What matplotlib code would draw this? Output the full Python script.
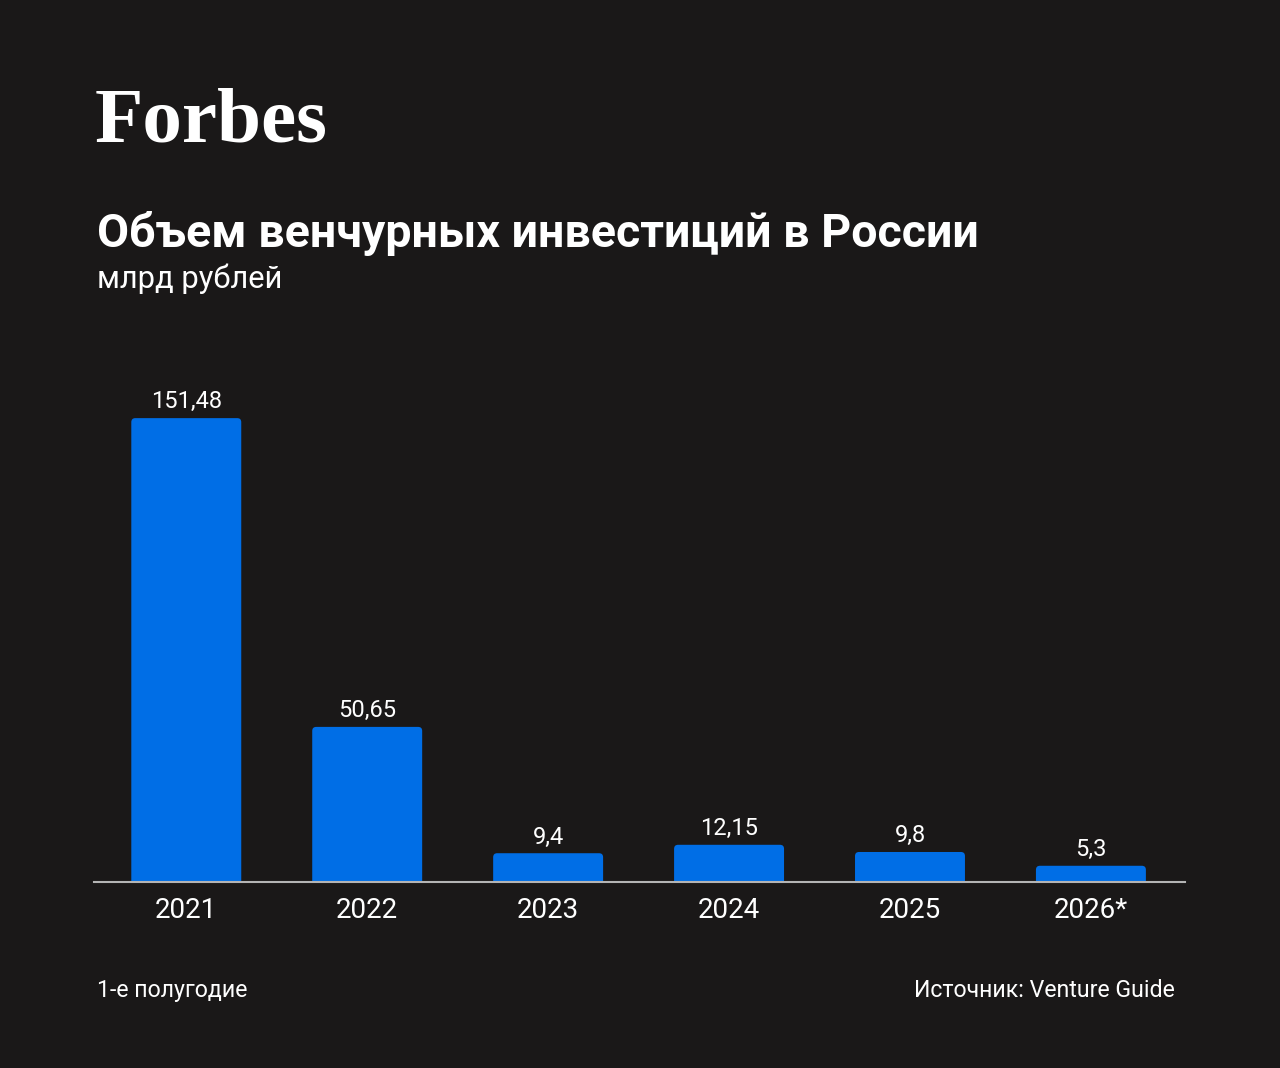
import matplotlib.pyplot as plt
from matplotlib.patches import FancyBboxPatch

plt.rcParams['font.family'] = ['Roboto', 'DejaVu Sans']

# данные
years = ['2021', '2022', '2023', '2024', '2025', '2026*']
values = [151.48, 50.65, 9.4, 12.15, 9.8, 5.3]
labels = ['151,48', '50,65', '9,4', '12,15', '9,8', '5,3']

BG = '#1a1818'
BLUE = '#006ee6'
W, H = 1280, 1068

fig = plt.figure(figsize=(W / 100, H / 100), dpi=100, facecolor=BG)


def fy(y):
    # пиксели сверху -> доля фигуры
    return 1 - y / H


# логотип и заголовки
fig.text(95 / W, fy(142), 'Forbes', fontsize=57, fontweight='bold', color='white',
         family='Liberation Serif', va='baseline', ha='left')
fig.text(97 / W, fy(247), 'Объем венчурных инвестиций в России', fontsize=33.5,
         fontweight='bold', color='white', va='baseline', ha='left')
fig.text(97 / W, fy(288), 'млрд рублей', fontsize=22.2, color='white', va='baseline', ha='left')

# область графика
ax_top, ax_bottom = 400, 882
ax = fig.add_axes([94 / W, fy(ax_bottom), (1185 - 94) / W, (ax_bottom - ax_top) / H])
ax.set_facecolor(BG)
ax.set_xlim(-0.51, 5.52)
ymax = 157.4
ax.set_ylim(0, ymax)

bar_w = 110 / 181
px_x = 181.0
px_y = (ax_bottom - ax_top) / ymax
for i, v in enumerate(values):
    p = FancyBboxPatch((i - bar_w / 2, -4), bar_w, v + 4,
                       boxstyle='round,pad=0,rounding_size=%f' % (4 / px_x),
                       mutation_aspect=px_x / px_y,
                       fc=BLUE, ec='none')
    ax.add_patch(p)
    ax.annotate(labels[i], (i, v), xytext=(0, 7), textcoords='offset points',
                ha='center', va='baseline', fontsize=17, color='white')

for s in ['top', 'right', 'left']:
    ax.spines[s].set_visible(False)
ax.spines['bottom'].set_color('#b4b4b4')
ax.spines['bottom'].set_linewidth(1.5)
ax.set_yticks([])
ax.set_xticks(range(len(years)))
ax.set_xticklabels(years, fontsize=20, color='white')
ax.tick_params(axis='x', length=0, pad=11)

# подписи внизу
fig.text(97 / W, fy(997), '1-е полугодие', fontsize=16.7, color='white', va='baseline', ha='left')
fig.text(1175 / W, fy(997), 'Источник: Venture Guide', fontsize=16.7, color='white',
         va='baseline', ha='right')

fig.savefig('out.png', dpi=100, facecolor=BG)
